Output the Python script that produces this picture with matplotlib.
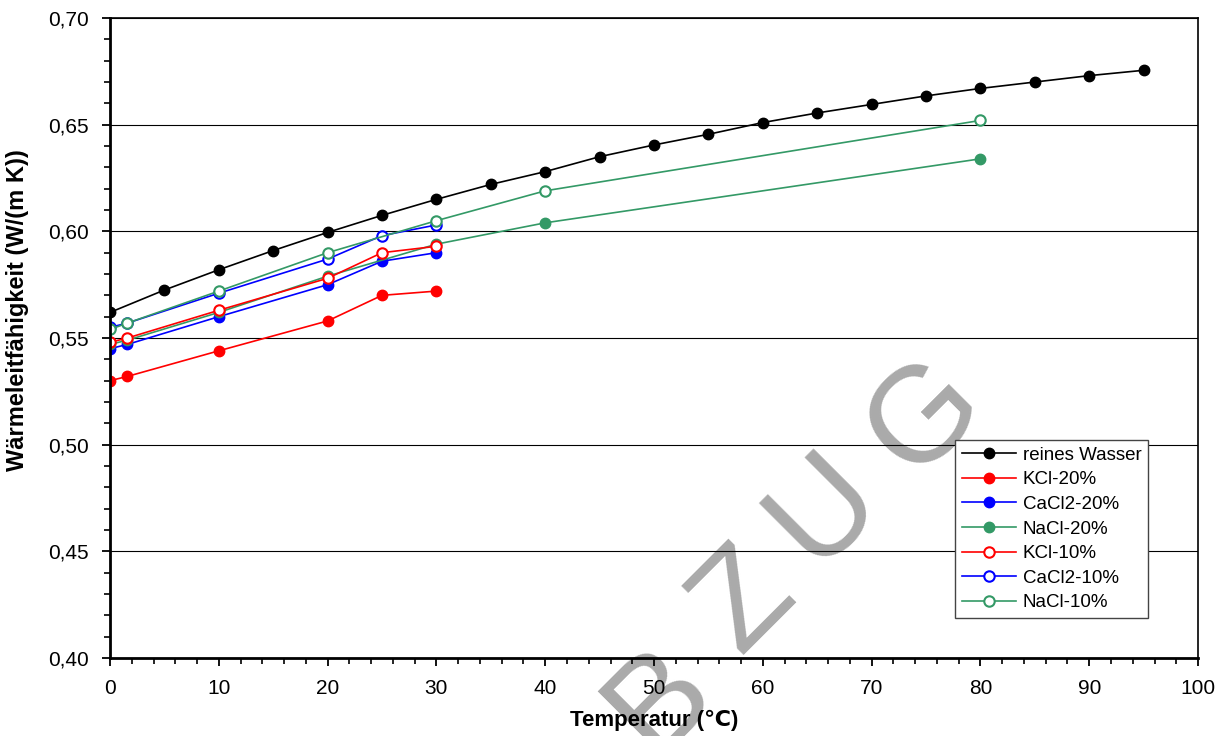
import matplotlib
matplotlib.use('Agg')
import matplotlib.pyplot as plt
from matplotlib.ticker import MultipleLocator, FuncFormatter

# reines Wasser, alle 5 Grad
t_wasser = [0, 5, 10, 15, 20, 25, 30, 35, 40, 45, 50, 55, 60, 65, 70, 75, 80, 85, 90, 95]
k_wasser = [0.562, 0.5725, 0.582, 0.591, 0.5995, 0.6075, 0.615, 0.622, 0.628, 0.635,
            0.6405, 0.6455, 0.651, 0.6555, 0.6595, 0.6635, 0.667, 0.670, 0.673, 0.6755]

# KCl / CaCl2 Messpunkte
t_salz = [0, 1.6, 10, 20, 25, 30]
k_kcl20 = [0.530, 0.532, 0.544, 0.558, 0.570, 0.572]
k_cacl20 = [0.545, 0.547, 0.560, 0.575, 0.586, 0.590]
k_kcl10 = [0.548, 0.550, 0.563, 0.578, 0.590, 0.593]
k_cacl10 = [0.555, 0.557, 0.571, 0.587, 0.598, 0.603]

# NaCl Messpunkte
t_nacl = [0, 1.6, 10, 20, 30, 40, 80]
k_nacl20 = [0.547, 0.549, 0.562, 0.579, 0.594, 0.604, 0.634]
k_nacl10 = [0.554, 0.557, 0.572, 0.590, 0.605, 0.619, 0.652]

watermark = ['B', 'Z', 'U', 'G']

plt.rcParams['font.family'] = ['Liberation Sans', 'DejaVu Sans']

fig = plt.figure(figsize=(12.25, 7.36), dpi=100)
ax = fig.add_axes([0.0898, 0.106, 0.8882, 0.8695])

gruen = '#339966'
ms = 7.5
lw = 1.2
ax.plot(t_wasser, k_wasser, 'o-', color='black', ms=ms, lw=lw, label='reines Wasser')
ax.plot(t_salz, k_kcl20, 'o-', color='#ff0000', ms=ms, lw=lw, label='KCl-20%')
ax.plot(t_salz, k_cacl20, 'o-', color='#0000ff', ms=ms, lw=lw, label='CaCl2-20%')
ax.plot(t_nacl, k_nacl20, 'o-', color=gruen, ms=ms, lw=lw, label='NaCl-20%')
ax.plot(t_salz, k_kcl10, 'o-', color='#ff0000', mfc='white', mew=1.5, ms=ms, lw=lw, label='KCl-10%')
ax.plot(t_salz, k_cacl10, 'o-', color='#0000ff', mfc='white', mew=1.5, ms=ms, lw=lw, label='CaCl2-10%')
ax.plot(t_nacl, k_nacl10, 'o-', color=gruen, mfc='white', mew=1.5, ms=ms, lw=lw, label='NaCl-10%')

ax.set_xlim(0, 100)
ax.set_ylim(0.40, 0.70)
ax.xaxis.set_major_locator(MultipleLocator(10))
ax.xaxis.set_minor_locator(MultipleLocator(2))
ax.yaxis.set_major_locator(MultipleLocator(0.05))
ax.yaxis.set_minor_locator(MultipleLocator(0.01))
ax.yaxis.set_major_formatter(FuncFormatter(lambda v, p: ('%.2f' % v).replace('.', ',')))
ax.tick_params(which='major', direction='out', length=6, width=1.3, labelsize=15, pad=9)
ax.tick_params(which='minor', direction='out', length=4, width=1.2)
ax.grid(True, axis='y', which='major', color='black', lw=0.8)

for s in ['left', 'bottom']:
    ax.spines[s].set_linewidth(2)
for s in ['top', 'right']:
    ax.spines[s].set_linewidth(1.2)

ax.set_xlabel('Temperatur (\u2103)', fontsize=16, fontweight='bold', labelpad=9)
ax.set_ylabel('Wärmeleitfähigkeit (W/(m K))', fontsize=17, fontweight='bold')
ax.yaxis.set_label_coords(-0.074, 0.544)

leg = ax.legend(loc='lower right', bbox_to_anchor=(0.954, 0.0625), borderaxespad=0,
                fontsize=13.5, frameon=True, fancybox=False, edgecolor='#444444',
                framealpha=1, borderpad=0.35, labelspacing=0.4, handlelength=2.9,
                handletextpad=0.35)
leg.get_frame().set_linewidth(1)

# Wasserzeichen
wm_pos = [(660, 700), (744, 601), (825, 510), (925, 418)]
for ch, (px, py) in zip(watermark, wm_pos):
    ax.text(px / 1225, 1 - py / 736, ch, transform=fig.transFigure, fontsize=98,
            color='#aaaaaa', rotation=45, ha='center', va='center', zorder=0.5, clip_on=False)

fig.savefig('out.png', dpi=100)
